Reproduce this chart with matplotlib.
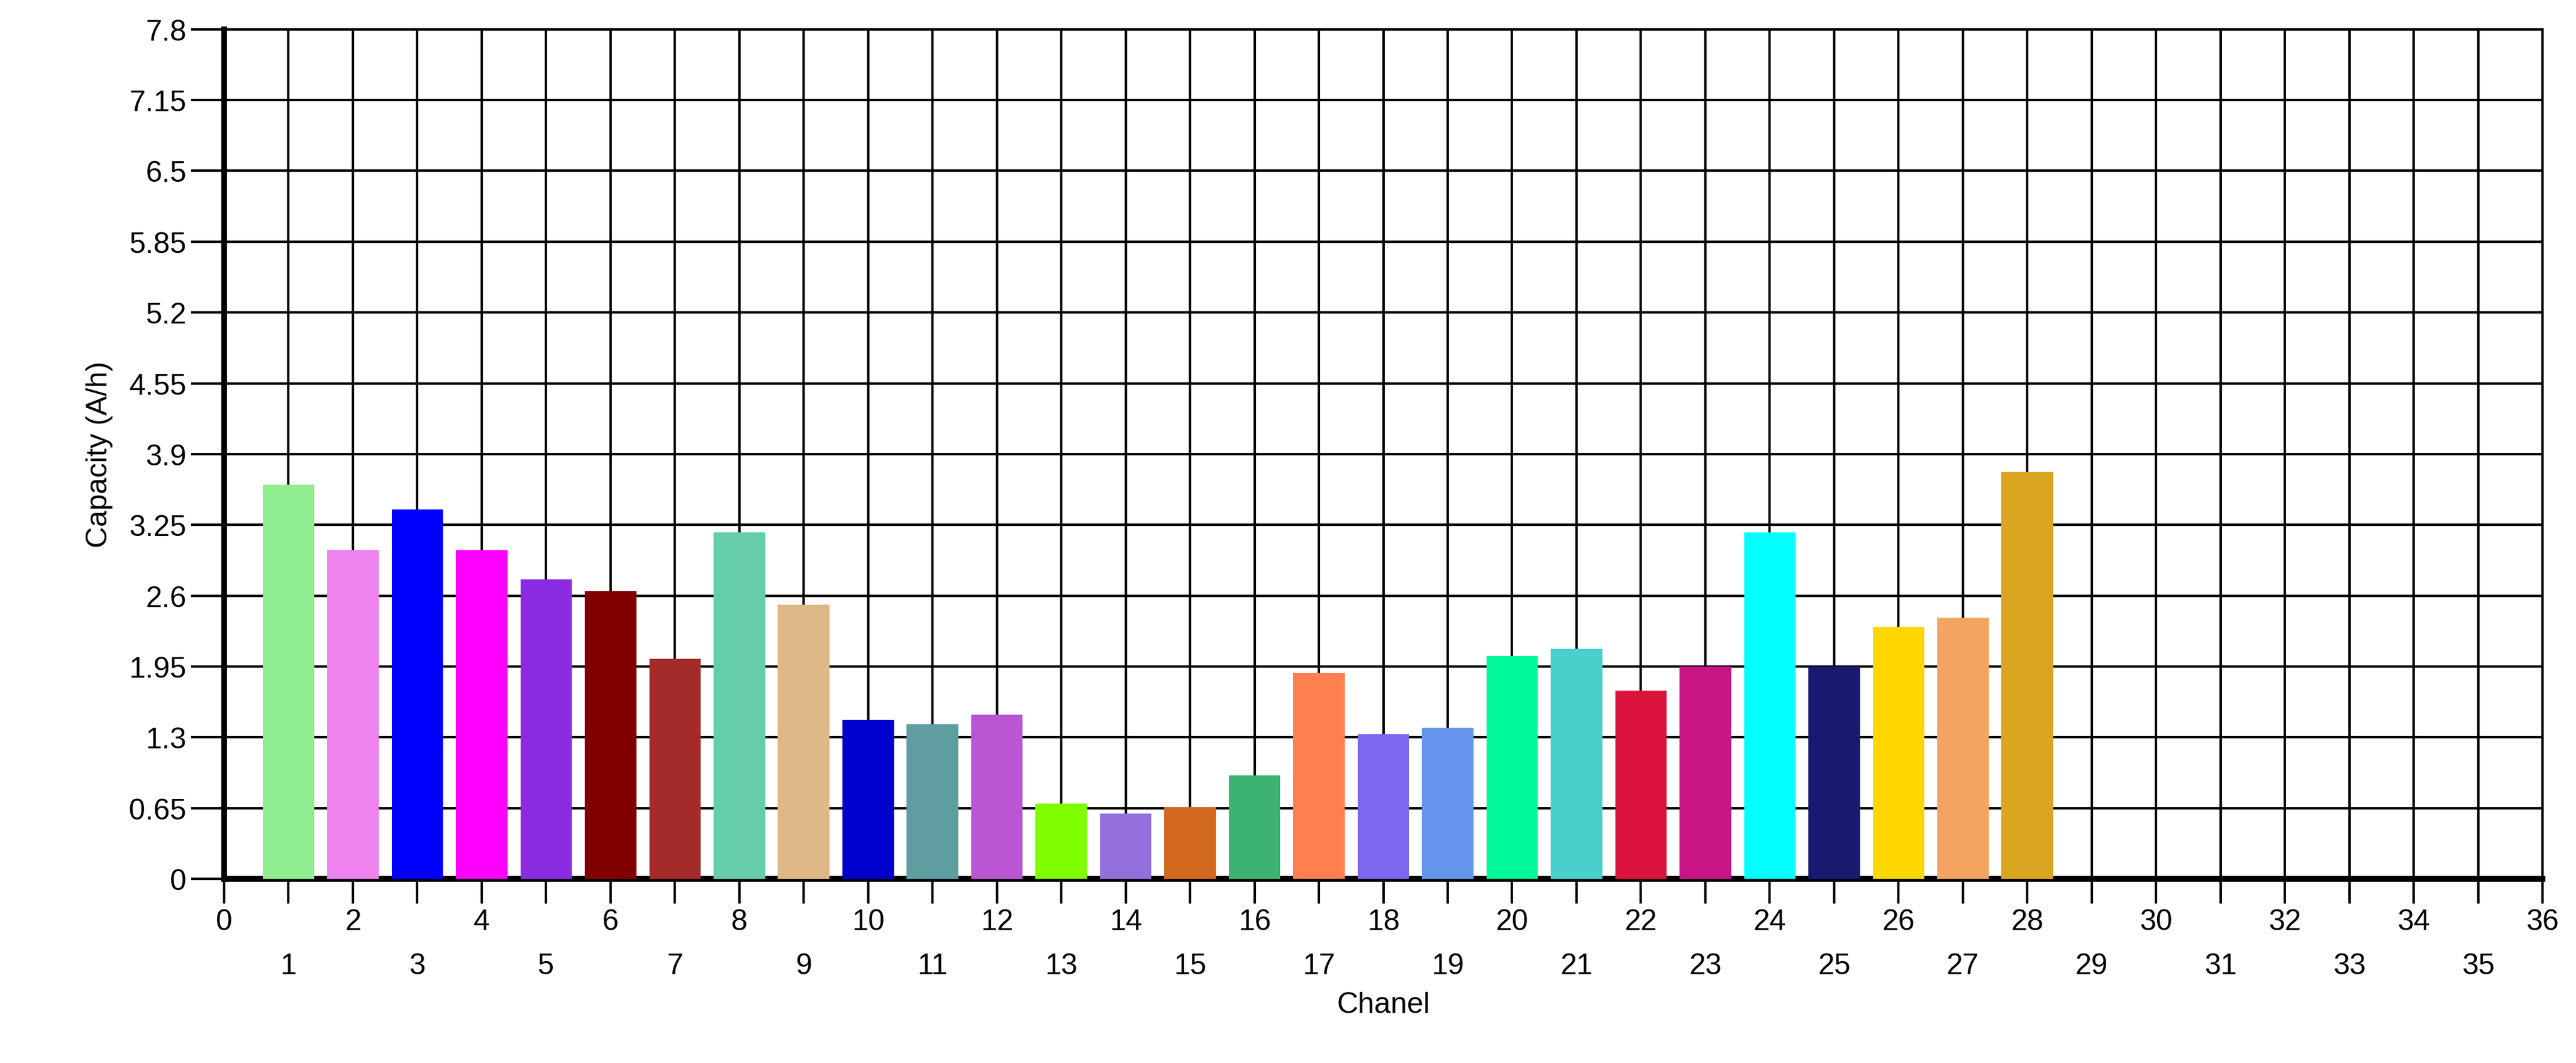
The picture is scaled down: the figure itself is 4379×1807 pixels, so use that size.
import matplotlib
matplotlib.use("Agg")
import matplotlib.pyplot as plt

channels = list(range(1, 29))
capacity = [3.62, 3.02, 3.39, 3.02, 2.75, 2.64, 2.02, 3.18, 2.52, 1.46,
            1.42, 1.51, 0.69, 0.60, 0.66, 0.95, 1.89, 1.33, 1.39, 2.05,
            2.11, 1.73, 1.95, 3.18, 1.95, 2.31, 2.40, 3.74]
colors = ['lightgreen', 'violet', 'blue', 'magenta', 'blueviolet', 'maroon',
          'brown', 'mediumaquamarine', 'burlywood', 'mediumblue', 'cadetblue',
          'mediumorchid', 'chartreuse', 'mediumpurple', 'chocolate',
          'mediumseagreen', 'coral', 'mediumslateblue', 'cornflowerblue',
          'mediumspringgreen', 'mediumturquoise', 'crimson', 'mediumvioletred',
          'cyan', 'midnightblue', 'gold', 'sandybrown', 'goldenrod']
y_ticks = [0, 0.65, 1.3, 1.95, 2.6, 3.25, 3.9, 4.55, 5.2, 5.85, 6.5, 7.15, 7.8]
y_labels = ['0', '0.65', '1.3', '1.95', '2.6', '3.25', '3.9', '4.55', '5.2',
            '5.85', '6.5', '7.15', '7.8']

plt.rcParams['font.family'] = ['Liberation Sans', 'DejaVu Sans']
fig = plt.figure(figsize=(43.79, 18.08), dpi=100)
ax = fig.add_axes([0.087, 0.173, 0.900, 0.799])

ax.bar(channels, capacity, width=0.8, color=colors, zorder=3)

ax.set_xlim(0, 36)
ax.set_ylim(0, 7.8)
ax.set_yticks(y_ticks)
ax.set_yticklabels(y_labels)
ax.set_xticks(range(0, 37, 2))
ax.set_xticks(range(1, 37, 2), minor=True)
ax.set_xticklabels([str(i) for i in range(1, 37, 2)], minor=True)
ax.tick_params(axis='x', which='major', length=30, width=3, labelsize=36, pad=6)
ax.tick_params(axis='x', which='minor', length=30, width=3, labelsize=36, pad=60)
ax.tick_params(axis='y', length=40, width=3, labelsize=36, pad=6)
ax.grid(True, which='both', color='black', linewidth=3, zorder=0)

for s in ax.spines.values():
    s.set_linewidth(3)
ax.spines['left'].set_linewidth(7)
ax.spines['bottom'].set_linewidth(7)

ax.set_xlabel('Chanel', fontsize=36, labelpad=14)
ax.set_ylabel('Capacity (A/h)', fontsize=36, labelpad=20)

fig.savefig('out.png', dpi=100)
